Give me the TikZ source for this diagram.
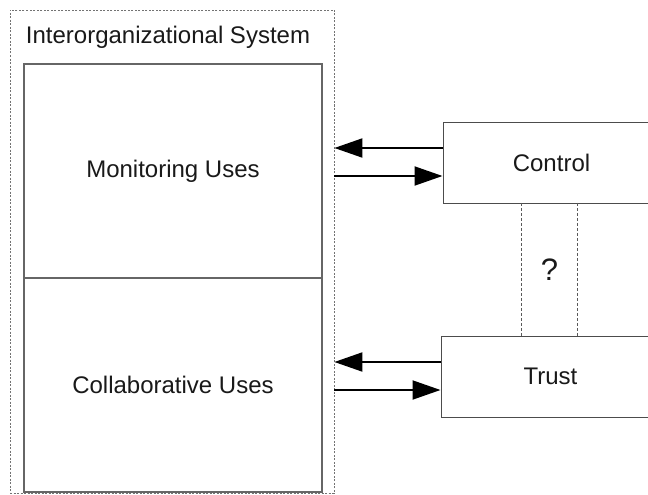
\documentclass[tikz,border=0pt]{standalone}
\usepackage{fontspec}
\setmainfont{Liberation Sans}
\usetikzlibrary{arrows.meta}
\begin{document}
\begin{tikzpicture}[x=1pt,y=-1pt,
  lbl/.style={font=\fontsize{24}{28}\selectfont, text=black!90},
  outerbox/.style={draw=black!55, dash pattern=on 2pt off 1.5pt, line width=0.8pt, inner sep=0pt},
  innerbox/.style={lbl, draw=black!60, line width=1.4pt, inner sep=0pt},
  sidebox/.style={lbl, draw=black!70, line width=1pt, inner sep=0pt},
  qline/.style={draw=black!65, dash pattern=on 3pt off 2pt, line width=0.8pt},
  arr/.style={-{Triangle[length=28pt,width=19pt]}, line width=2pt, black}]
\clip (0,0) rectangle (648,495);
\fill[white] (0,0) rectangle (648,495);

% interorganizational system with its two kinds of use
\node[outerbox, minimum width=324pt, minimum height=483pt] (sys) at (172,251.5) {};
\node[lbl] (title) at (168,37) {Interorganizational System};
\node[innerbox, minimum width=298pt, minimum height=214pt] (mon) at (173,171) {Monitoring Uses};
\node[innerbox, minimum width=298pt, minimum height=214pt] (col) at (173,385) {Collaborative Uses};

% control and trust
\node[sidebox, minimum width=217pt, minimum height=81pt] (control) at (551.5,162.5) {Control};
\node[sidebox, minimum width=219pt, minimum height=81pt] (trust) at (550.5,376.5) {Trust};

% open question between them
\node[lbl, font=\fontsize{31}{34}\selectfont, minimum width=55pt, minimum height=133pt, inner sep=0pt] (q) at (549.5,269.5) {?};
\draw[qline] (q.north west) -- (q.south west);
\draw[qline] (q.north east) -- (q.south east);

% arrows
\coordinate (c1) at ([yshift=14.5pt]control.west);
\coordinate (c2) at ([yshift=-13.5pt]control.west);
\coordinate (t1) at ([yshift=14.5pt]trust.west);
\coordinate (t2) at ([yshift=-13.5pt]trust.west);
\draw[arr] (c1) -- (c1 -| sys.east);
\draw[arr] (c2 -| sys.east) -- (c2);
\draw[arr] (t1) -- (t1 -| sys.east);
\draw[arr] (t2 -| sys.east) -- (t2);
\end{tikzpicture}
\end{document}
